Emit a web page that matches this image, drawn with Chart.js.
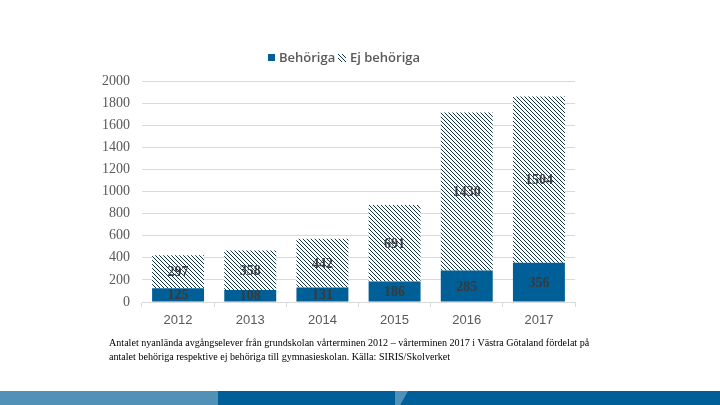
<!DOCTYPE html>
<html><head><meta charset="utf-8">
<script src="https://cdn.jsdelivr.net/npm/chart.js@4/dist/chart.umd.min.js"></script>
<style>
html,body{margin:0;padding:0;background:#fff;}
#wrap{position:relative;width:720px;height:405px;overflow:hidden;}
#c{position:absolute;left:0;top:0;}
#cap{position:absolute;left:109px;top:336px;width:500px;font-family:"Liberation Serif","Times New Roman",serif;font-size:10.1px;line-height:14px;color:#000;}
#b1{position:absolute;left:0;top:391px;width:218px;height:14px;background:#5191b7;}
#b2{position:absolute;left:218px;top:391px;width:502px;height:14px;background:#005f99;}
#b3{position:absolute;left:395px;top:391px;width:13px;height:14px;background:#5191b7;clip-path:polygon(0 0,100% 0,40% 100%,0 100%);}
</style></head>
<body><div id="wrap">
<canvas id="c" width="720" height="405"></canvas>
<div id="cap">Antalet nyanlända avgångselever från grundskolan vårterminen 2012 – vårterminen 2017 i Västra Götaland fördelat på antalet behöriga respektive ej behöriga till gymnasieskolan. Källa: SIRIS/Skolverket</div>
<div id="b1"></div><div id="b2"></div><div id="b3"></div>
</div>
<script>
const years = ["2012","2013","2014","2015","2016","2017"];
const behoriga = [125,108,131,186,285,356];
const ejBehoriga = [297,358,442,691,1430,1504];
const yTicks = [0,200,400,600,800,1000,1200,1400,1600,1800,2000];
const seriesNames = ["Behöriga","Ej behöriga"];

const BLUE = "#005f96";
function makePattern(){
  const p = document.createElement("canvas");
  p.width = 4; p.height = 4;
  const g = p.getContext("2d");
  g.fillStyle = "#fff"; g.fillRect(0,0,4,4);
  g.fillStyle = "#123446";
  for(let i=0;i<4;i++){ g.fillRect(i,i,1,1); }
  return g.createPattern(p,"repeat");
}
const ctx = document.getElementById("c").getContext("2d");
const hatch = makePattern();

const labelPlugin = {
  id:"labels",
  afterDatasetsDraw(chart){
    const c = chart.ctx;
    c.save();
    c.font = "bold 14px 'Liberation Serif', serif";
    c.fillStyle = "#3a3a3a";
    c.textAlign = "center"; c.textBaseline = "middle";
    chart.data.datasets.forEach((ds,di)=>{
      chart.getDatasetMeta(di).data.forEach((el,i)=>{
        const y = (el.y + el.base)/2;
        c.fillText(String(ds.data[i]), el.x, y+1);
      });
    });
    // legend
    c.font = "600 13px 'Open Sans', sans-serif";
    c.textAlign = "left";
    c.fillStyle = BLUE; c.fillRect(268,54,7,7);
    c.fillStyle = "#595959"; c.fillText(seriesNames[0],279,58);
    c.fillStyle = hatch; c.fillRect(338,54,8,8);
    c.fillStyle = "#595959"; c.fillText(seriesNames[1],350,58);
    c.restore();
  }
};

new Chart(ctx,{
  type:"bar",
  data:{labels:years,datasets:[
    {label:seriesNames[0],data:behoriga,backgroundColor:BLUE,stack:"s",barPercentage:0.72,categoryPercentage:1},
    {label:seriesNames[1],data:ejBehoriga,backgroundColor:hatch,stack:"s",barPercentage:0.72,categoryPercentage:1}
  ]},
  options:{
    responsive:false,animation:false,
    layout:{padding:{left:0,right:145,top:81,bottom:0}},
    plugins:{legend:{display:false},tooltip:{enabled:false}},
    scales:{
      x:{stacked:true,
        grid:{display:true,drawOnChartArea:false,drawTicks:true,tickLength:5,color:"#d9d9d9",offset:true},
        border:{display:true,color:"#d9d9d9"},
        ticks:{color:"#595959",font:{family:"'Liberation Sans', sans-serif",size:13},padding:6},
        afterFit(s){s.height=103;}
      },
      y:{stacked:true,min:0,max:2000,
        afterBuildTicks(s){s.ticks=yTicks.map(v=>({value:v}));},
        grid:{color:"#d9d9d9",drawTicks:false},
        border:{display:false},
        ticks:{color:"#595959",font:{family:"'Liberation Serif', serif",size:14},padding:12,callback:(v)=>String(v)},
        afterFit(s){s.width=142;}
      }
    }
  },
  plugins:[labelPlugin]
});
</script>
</body></html>
